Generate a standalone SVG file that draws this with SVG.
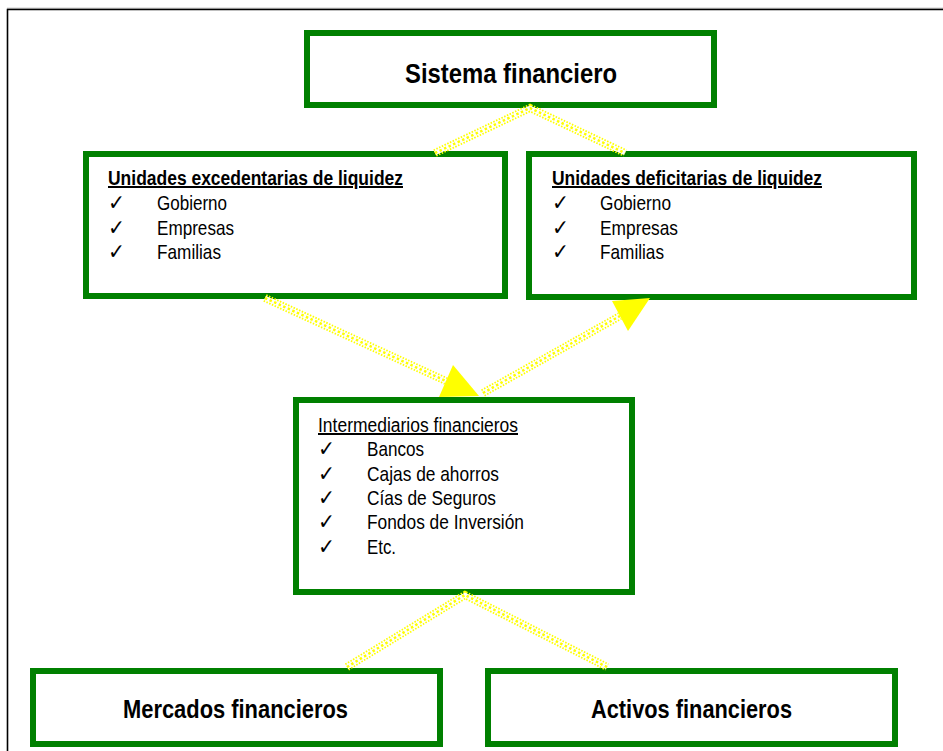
<svg xmlns="http://www.w3.org/2000/svg" width="943" height="751" viewBox="0 0 943 751">
<style>
.box{fill:#fff;stroke:#008000;stroke-width:6}
.t{font-family:"Liberation Sans",Arial,sans-serif;fill:#000}
.big{font-size:28px;font-weight:bold}
.bot{font-size:26px;font-weight:bold}
.hd{font-size:20px;text-decoration:underline}
.b{font-weight:bold}
.it{font-size:21px}
.ck{font-family:"DejaVu Sans",sans-serif;font-size:22px;fill:#000}
.band{fill:none;stroke:#ffff00;stroke-width:8;stroke-dasharray:1.5 1.5}
.gap{fill:none;stroke:#fff;stroke-width:4.5}
.dots{fill:none;stroke:#ffff00;stroke-width:2.5;stroke-dasharray:2.5 2.5}
.head{fill:#ffff00}
</style>
<defs>
<polyline id="p1" points="435,153 530,108 625,153"/>
<polyline id="p2" points="265,298 446,381"/>
<polyline id="p3" points="483,393 620,316"/>
<polyline id="p4" points="347,667 465,595 607,667"/>
</defs>
<rect x="0" y="0" width="943" height="751" fill="#fff"/>
<polyline points="7.5,760 7.5,9.5 950,9.5" fill="none" stroke="#000" stroke-width="1.6"/>
<line x1="7" y1="8.3" x2="950" y2="8.3" stroke="#888" stroke-width="1"/>

<g id="n-sistema">
<rect class="box" x="307" y="33" width="407" height="72"/>
<text class="t big" x="511" y="83" text-anchor="middle" textLength="212" lengthAdjust="spacingAndGlyphs">Sistema financiero</text>
</g>

<g id="n-excedentarias">
<rect class="box" x="86" y="154" width="419" height="142"/>
<text class="t hd b" x="108" y="185" textLength="295" lengthAdjust="spacingAndGlyphs">Unidades excedentarias de liquidez</text>
<text class="ck" x="108" y="210" textLength="17" lengthAdjust="spacingAndGlyphs">✓</text>
<text class="ck" x="108" y="234.5" textLength="17" lengthAdjust="spacingAndGlyphs">✓</text>
<text class="ck" x="108" y="259" textLength="17" lengthAdjust="spacingAndGlyphs">✓</text>
<text class="t it" x="157" y="210" textLength="70" lengthAdjust="spacingAndGlyphs">Gobierno</text>
<text class="t it" x="157" y="234.5" textLength="77" lengthAdjust="spacingAndGlyphs">Empresas</text>
<text class="t it" x="157" y="259" textLength="64" lengthAdjust="spacingAndGlyphs">Familias</text>
</g>

<g id="n-deficitarias">
<rect class="box" x="529" y="154" width="385" height="143"/>
<text class="t hd b" x="552" y="185" textLength="270" lengthAdjust="spacingAndGlyphs">Unidades deficitarias de liquidez</text>
<text class="ck" x="552" y="210" textLength="17" lengthAdjust="spacingAndGlyphs">✓</text>
<text class="ck" x="552" y="234.5" textLength="17" lengthAdjust="spacingAndGlyphs">✓</text>
<text class="ck" x="552" y="259" textLength="17" lengthAdjust="spacingAndGlyphs">✓</text>
<text class="t it" x="600" y="210" textLength="71" lengthAdjust="spacingAndGlyphs">Gobierno</text>
<text class="t it" x="600" y="234.5" textLength="78" lengthAdjust="spacingAndGlyphs">Empresas</text>
<text class="t it" x="600" y="259" textLength="64" lengthAdjust="spacingAndGlyphs">Familias</text>
</g>

<g id="n-intermediarios">
<rect class="box" x="296" y="400" width="336" height="192"/>
<text class="t hd" x="318" y="432" textLength="200" lengthAdjust="spacingAndGlyphs">Intermediarios financieros</text>
<text class="ck" x="318" y="456" textLength="17" lengthAdjust="spacingAndGlyphs">✓</text>
<text class="ck" x="318" y="481" textLength="17" lengthAdjust="spacingAndGlyphs">✓</text>
<text class="ck" x="318" y="505" textLength="17" lengthAdjust="spacingAndGlyphs">✓</text>
<text class="ck" x="318" y="529" textLength="17" lengthAdjust="spacingAndGlyphs">✓</text>
<text class="ck" x="318" y="554" textLength="17" lengthAdjust="spacingAndGlyphs">✓</text>
<text class="t it" x="367" y="456" textLength="57" lengthAdjust="spacingAndGlyphs">Bancos</text>
<text class="t it" x="367" y="481" textLength="132" lengthAdjust="spacingAndGlyphs">Cajas de ahorros</text>
<text class="t it" x="367" y="505" textLength="129" lengthAdjust="spacingAndGlyphs">Cías de Seguros</text>
<text class="t it" x="367" y="529" textLength="157" lengthAdjust="spacingAndGlyphs">Fondos de Inversión</text>
<text class="t it" x="367" y="554" textLength="29" lengthAdjust="spacingAndGlyphs">Etc.</text>
</g>

<g id="n-mercados">
<rect class="box" x="33" y="671" width="407" height="73"/>
<text class="t bot" x="235.5" y="718" text-anchor="middle" textLength="225" lengthAdjust="spacingAndGlyphs">Mercados financieros</text>
</g>

<g id="n-activos">
<rect class="box" x="488" y="671" width="407" height="73"/>
<text class="t bot" x="691.5" y="718" text-anchor="middle" textLength="201" lengthAdjust="spacingAndGlyphs">Activos financieros</text>
</g>

<g id="connectors">
<use href="#p1" class="band"/><use href="#p1" class="gap"/><use href="#p1" class="dots"/>
<use href="#p2" class="band"/><use href="#p2" class="gap"/><use href="#p2" class="dots"/>
<use href="#p3" class="band"/><use href="#p3" class="gap"/><use href="#p3" class="dots"/>
<use href="#p4" class="band"/><use href="#p4" class="gap"/><use href="#p4" class="dots"/>
<polygon class="head" points="453,365 439,397 479,396"/>
<polygon class="head" points="612,301 628,331 650,298"/>
</g>
</svg>
